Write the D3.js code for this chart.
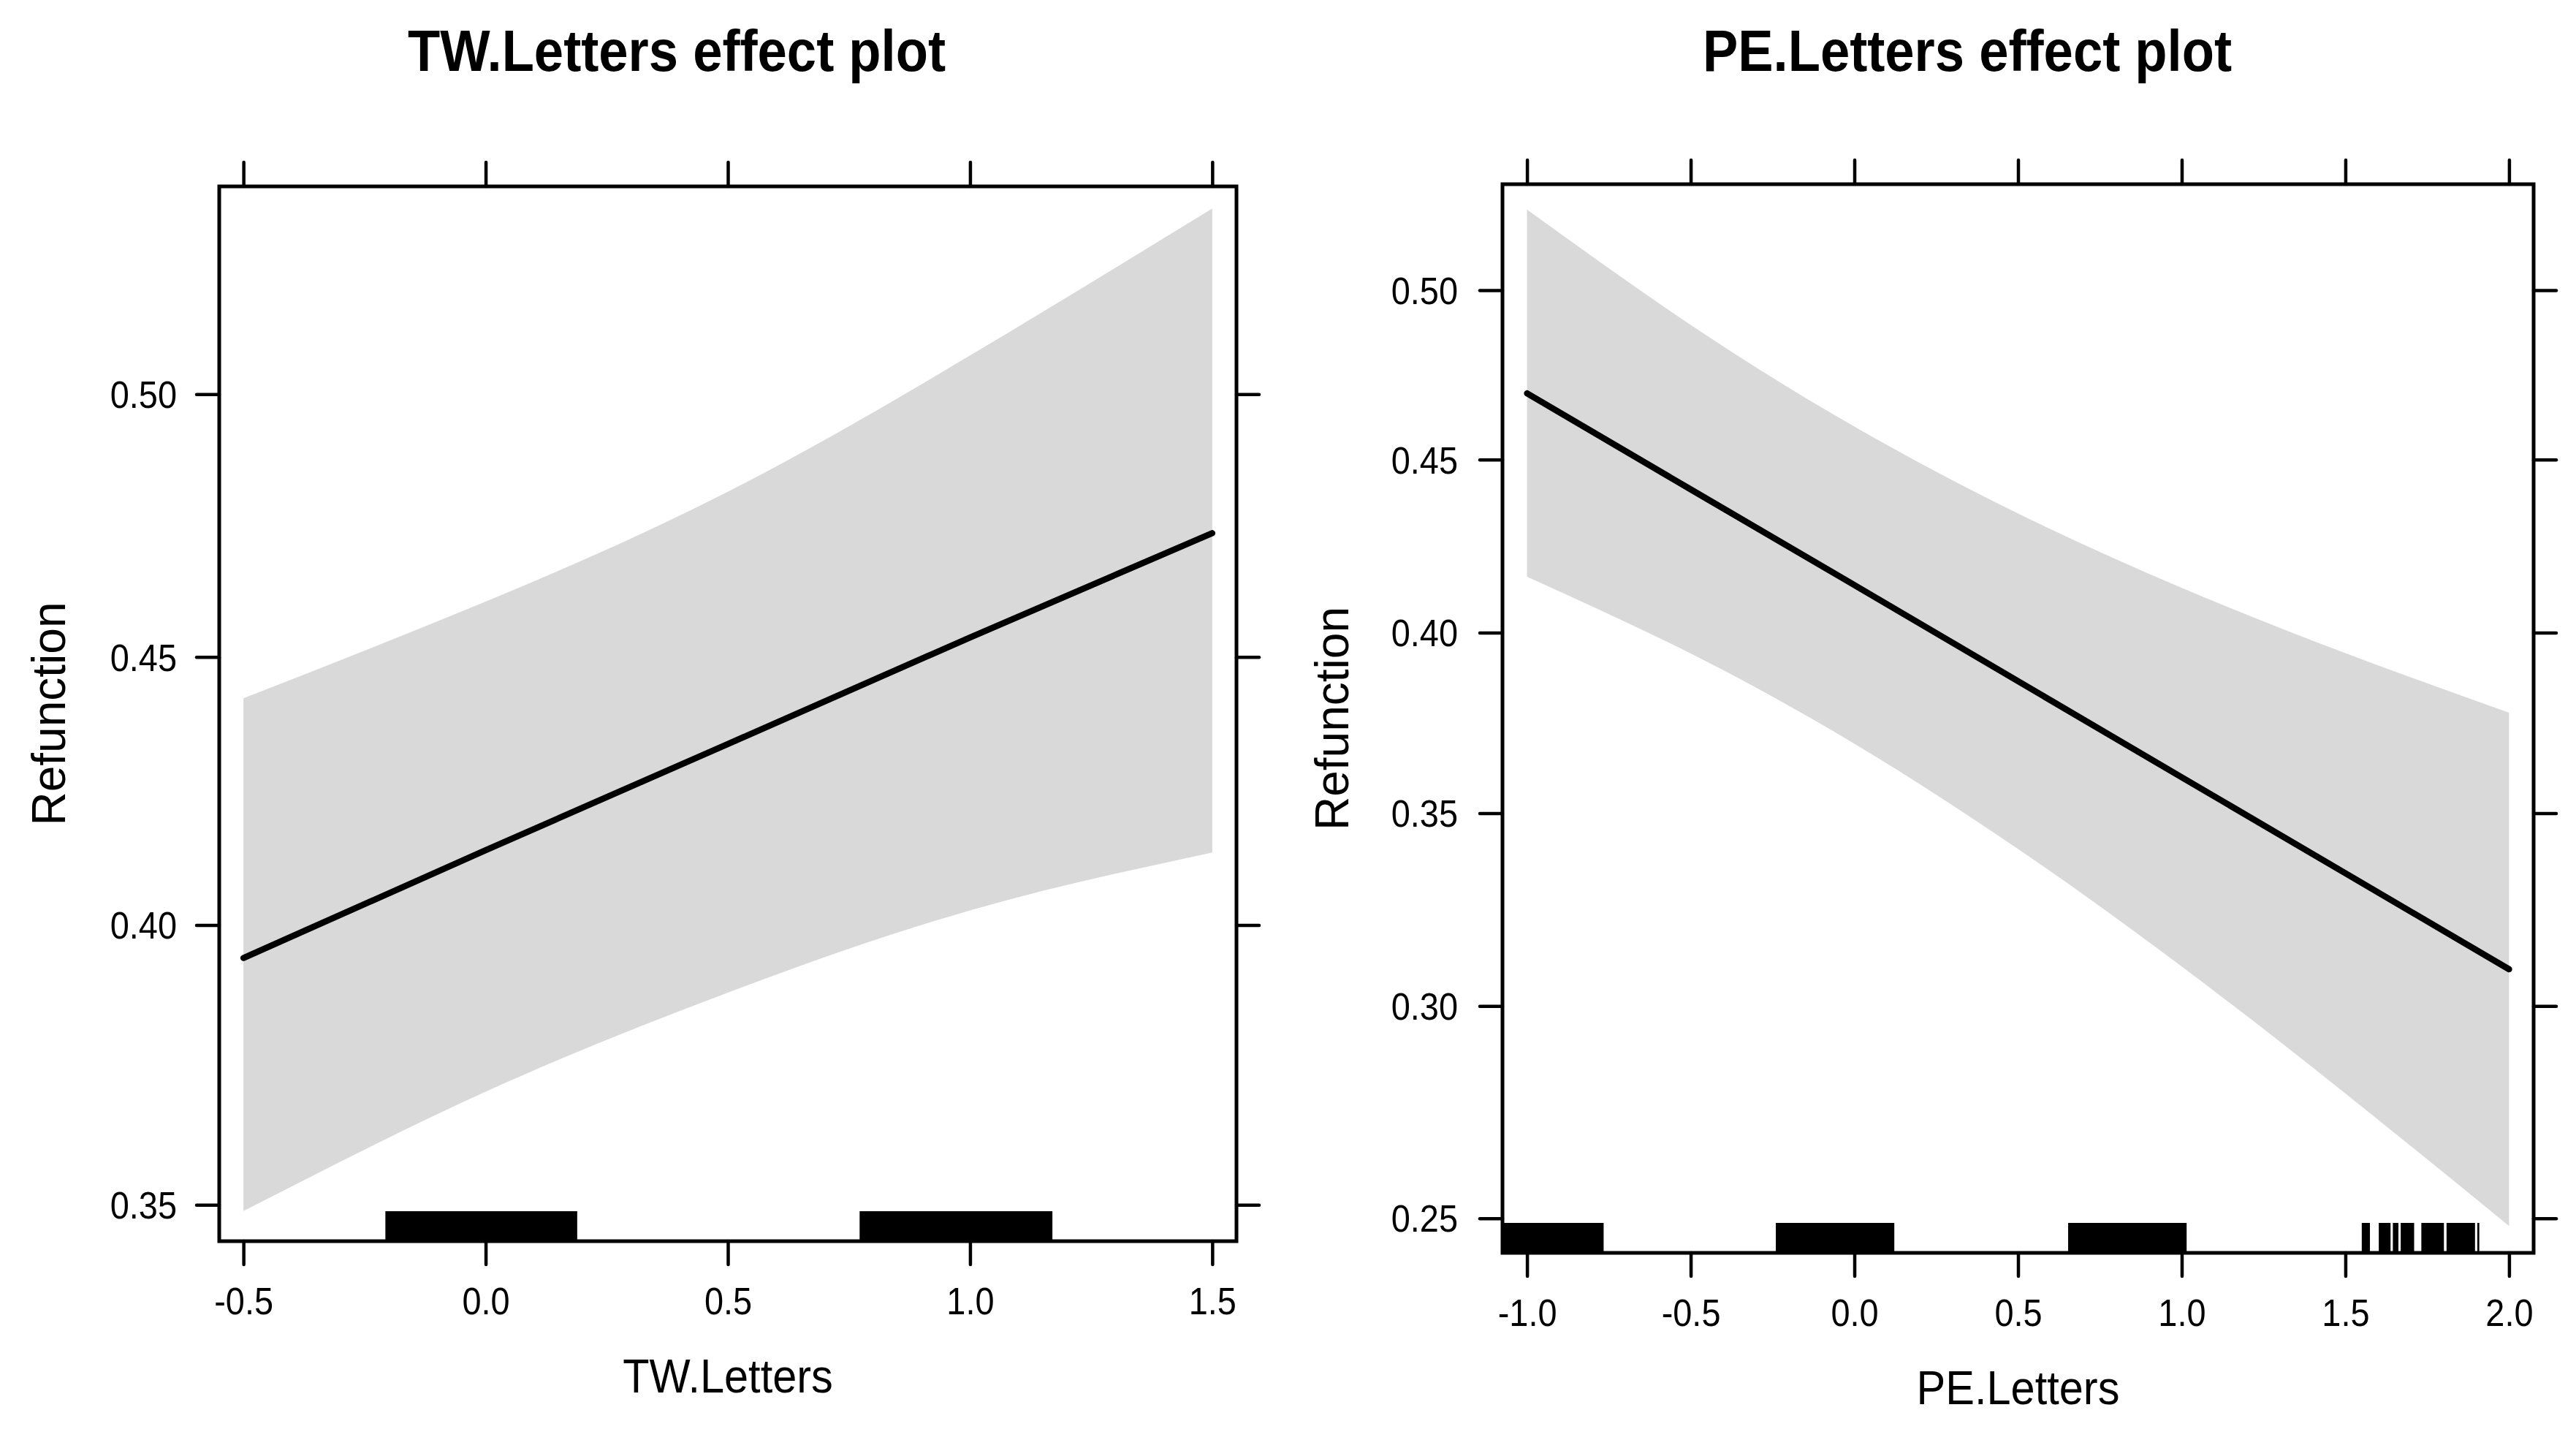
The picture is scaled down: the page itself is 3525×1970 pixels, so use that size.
<!DOCTYPE html>
<html>
<head>
<meta charset="utf-8">
<script src="https://cdn.jsdelivr.net/npm/d3@7"></script>
<style>
  html, body { margin: 0; padding: 0; background: #fff; }
  svg { display: block; }
  text { font-family: "Liberation Sans", Arial, Helvetica, sans-serif; fill: #000; }
  .tick text { font-family: "Liberation Sans", Arial, Helvetica, sans-serif; font-size: 51px; fill: #000; }
</style>
</head>
<body>
<script>
// ---------------- data ----------------
// TW.Letters effect plot
const twX      = [-0.5, 0.0, 0.5, 1.0, 1.5];
const twFit    = [0.3940, 0.4138, 0.4336, 0.4537, 0.4735];
const twUpper  = [0.4422, 0.4605, 0.4814, 0.5074, 0.5354];
const twLower  = [0.3489, 0.3699, 0.3877, 0.4027, 0.4134];
const twXTicks = [-0.5, 0.0, 0.5, 1.0, 1.5];
const twYTicks = [0.35, 0.40, 0.45, 0.50];
const twXLim   = [-0.55, 1.55];
const twYLim   = [0.3437, 0.5396];
const twRug    = [[-0.207, 0.189], [0.772, 1.170]];

// PE.Letters effect plot
const peX      = [-1.0, -0.5, 0.0, 0.5, 1.0, 1.5, 2.0];
const peFit    = [0.4695, 0.4413, 0.4136, 0.3863, 0.3597, 0.3340, 0.3092];
const peUpper  = [0.5238, 0.4897, 0.4597, 0.4343, 0.4128, 0.3942, 0.3775];
const peLower  = [0.4160, 0.3941, 0.3689, 0.3404, 0.3099, 0.2787, 0.2483];
const peXTicks = [-1.0, -0.5, 0.0, 0.5, 1.0, 1.5, 2.0];
const peYTicks = [0.25, 0.30, 0.35, 0.40, 0.45, 0.50];
const peXLim   = [-1.075, 2.075];
const peYLim   = [0.2424, 0.5313];
const peRug    = [[-1.11, -0.766], [-0.240, 0.122], [0.653, 1.015],
                  [1.550, 1.575], [1.602, 1.638], [1.645, 1.662], [1.669, 1.710],
                  [1.732, 1.801], [1.809, 1.896], [1.903, 1.909]];

const titles = ["TW.Letters effect plot", "PE.Letters effect plot"];
const xLabels = ["TW.Letters", "PE.Letters"];
const yLabel = "Refunction";

// ---------------- layout ----------------
const W = 3525, H = 1970;
const svg = d3.select("body").append("svg")
  .attr("width", W).attr("height", H)
  .attr("viewBox", `0 0 ${W} ${H}`);
svg.append("rect").attr("width", W).attr("height", H).attr("fill", "#fff");

const logit = p => Math.log(p / (1 - p));
const expit = v => 1 / (1 + Math.exp(-v));

const panels = [
  { id: "tw", left: 300, right: 1692, top: 255, bottom: 1698, titleX: 926, yLabGap: 58,
    xs: twX, fit: twFit, upper: twUpper, lower: twLower, xTicks: twXTicks, yTicks: twYTicks,
    xLim: twXLim, yLim: twYLim, rug: twRug, title: titles[0], xlab: xLabels[0] },
  { id: "pe", left: 2056, right: 3467, top: 252, bottom: 1714, titleX: 2692, yLabGap: 61,
    xs: peX, fit: peFit, upper: peUpper, lower: peLower, xTicks: peXTicks, yTicks: peYTicks,
    xLim: peXLim, yLim: peYLim, rug: peRug, title: titles[1], xlab: xLabels[1] }
];

function squishText(g, str, x, y, size, weight, sx, anchor) {
  return g.append("text")
    .attr("transform", `translate(${x},${y}) scale(${sx},1)`)
    .attr("text-anchor", anchor || "middle")
    .style("font-size", size + "px")
    .style("font-weight", weight || "normal")
    .text(str);
}

panels.forEach(cfg => {
  const g = svg.append("g");
  const x = d3.scaleLinear().domain(cfg.xLim).range([cfg.left, cfg.right]);
  const yl = d3.scaleLinear().domain(cfg.yLim.map(logit)).range([cfg.bottom, cfg.top]);
  const y = p => yl(logit(p));

  const clipId = "clip-" + cfg.id;
  svg.append("clipPath").attr("id", clipId)
    .append("rect")
    .attr("x", cfg.left).attr("y", cfg.top)
    .attr("width", cfg.right - cfg.left).attr("height", cfg.bottom - cfg.top);

  const plot = g.append("g").attr("clip-path", `url(#${clipId})`);

  // confidence band
  const area = d3.area()
    .x((d, i) => x(cfg.xs[i]))
    .y0((d, i) => y(cfg.lower[i]))
    .y1((d, i) => y(cfg.upper[i]))
    .curve(d3.curveNatural);
  plot.append("path")
    .datum(cfg.xs)
    .attr("d", area)
    .attr("fill", "#d9d9d9")
    .attr("stroke", "none");

  // fitted line
  const line = d3.line()
    .x((d, i) => x(cfg.xs[i]))
    .y((d, i) => y(cfg.fit[i]));
  plot.append("path")
    .datum(cfg.xs)
    .attr("d", line)
    .attr("fill", "none")
    .attr("stroke", "#000")
    .attr("stroke-width", 8.5)
    .attr("stroke-linecap", "round")
    .attr("stroke-linejoin", "round");

  // rug
  const rugH = 41;
  plot.selectAll("rect.rug")
    .data(cfg.rug)
    .join("rect")
    .attr("class", "rug")
    .attr("x", d => x(d[0]))
    .attr("width", d => Math.max(2.5, x(d[1]) - x(d[0])))
    .attr("y", cfg.bottom - rugH)
    .attr("height", rugH)
    .attr("fill", "#000");

  // axes
  const styleTicks = sel => {
    sel.select(".domain").remove();
    sel.selectAll(".tick line")
      .attr("stroke", "#000")
      .attr("stroke-width", 4.5)
      .attr("stroke-linecap", "round");
  };

  const bottomAxis = d3.axisBottom(x).tickValues(cfg.xTicks).tickSize(32)
    .tickFormat(d3.format(".1f"));
  const gb = g.append("g").attr("transform", `translate(0,${cfg.bottom})`).call(bottomAxis);
  styleTicks(gb);
  gb.selectAll(".tick text")
    .attr("y", 100).attr("dy", null)
    .attr("transform", "scale(0.92,1)")
    .text(d => d3.format(".1f")(d).replace("−", "-"));

  const topAxis = d3.axisTop(x).tickValues(cfg.xTicks).tickSize(33).tickFormat("");
  const gt = g.append("g").attr("transform", `translate(0,${cfg.top})`).call(topAxis);
  styleTicks(gt);

  const leftAxis = d3.axisLeft(yl).tickValues(cfg.yTicks.map(logit)).tickSize(31)
    .tickFormat(v => d3.format(".2f")(expit(v)));
  const gl = g.append("g").attr("transform", `translate(${cfg.left},0)`).call(leftAxis);
  styleTicks(gl);
  gl.selectAll(".tick text")
    .attr("x", -cfg.yLabGap / 0.92)
    .attr("dy", "0.358em")
    .attr("transform", "scale(0.92,1)");

  const rightAxis = d3.axisRight(yl).tickValues(cfg.yTicks.map(logit)).tickSize(31).tickFormat("");
  const gr = g.append("g").attr("transform", `translate(${cfg.right},0)`).call(rightAxis);
  styleTicks(gr);

  // panel box
  g.append("rect")
    .attr("x", cfg.left).attr("y", cfg.top)
    .attr("width", cfg.right - cfg.left).attr("height", cfg.bottom - cfg.top)
    .attr("fill", "none")
    .attr("stroke", "#000")
    .attr("stroke-width", 5);

  // labels
  squishText(g, cfg.title, cfg.titleX, 97, 80, "bold", 0.905, "middle");
  squishText(g, cfg.xlab, (cfg.left + cfg.right) / 2, cfg.bottom + 207, 64, "normal", 0.93, "middle");
  g.append("text")
    .attr("transform", `translate(${cfg.left - 211},${(cfg.top + cfg.bottom) / 2}) rotate(-90)`)
    .attr("text-anchor", "middle")
    .style("font-size", "64px")
    .text(yLabel);
});
</script>
</body>
</html>
